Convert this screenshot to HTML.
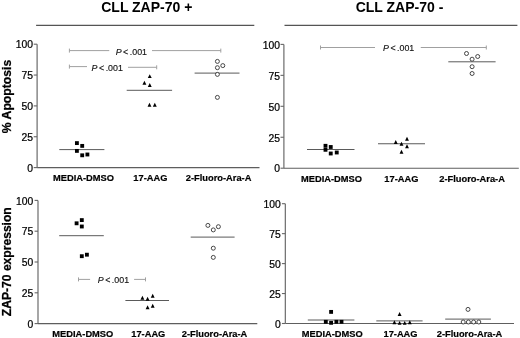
<!DOCTYPE html>
<html><head><meta charset="utf-8"><title>Figure</title>
<style>
html,body{margin:0;padding:0;background:#fff;}
svg{display:block;font-family:"Liberation Sans",sans-serif;fill:#000;}
</style></head><body>
<svg width="520" height="338" viewBox="0 0 520 338">
<rect width="520" height="338" fill="#fff"/>
<text x="146.8" y="11.7" font-size="14" text-anchor="middle" font-weight="bold" >CLL ZAP-70 +</text>
<text x="399.5" y="11.7" font-size="14" text-anchor="middle" font-weight="bold" >CLL ZAP-70 -</text>
<line x1="36.1" y1="25.3" x2="254.3" y2="25.3" stroke="#555" stroke-width="1.2"/>
<line x1="284.5" y1="25.3" x2="517.4" y2="25.3" stroke="#555" stroke-width="1.2"/>
<line x1="37.1" y1="44.2" x2="37.1" y2="167.6" stroke="#5e5e5e" stroke-width="1.1"/>
<line x1="37.1" y1="167.6" x2="259.5" y2="167.6" stroke="#5e5e5e" stroke-width="1.1"/>
<line x1="33.7" y1="44.2" x2="37.1" y2="44.2" stroke="#666" stroke-width="1.1"/>
<text transform="translate(33.10,48.45) scale(0.925,1)" font-size="11.2" text-anchor="end" font-weight="normal" stroke="#000" stroke-width="0.25">100</text>
<line x1="33.7" y1="75.05" x2="37.1" y2="75.05" stroke="#666" stroke-width="1.1"/>
<text transform="translate(33.10,79.30) scale(0.925,1)" font-size="11.2" text-anchor="end" font-weight="normal" stroke="#000" stroke-width="0.25">75</text>
<line x1="33.7" y1="105.9" x2="37.1" y2="105.9" stroke="#666" stroke-width="1.1"/>
<text transform="translate(33.10,110.15) scale(0.925,1)" font-size="11.2" text-anchor="end" font-weight="normal" stroke="#000" stroke-width="0.25">50</text>
<line x1="33.7" y1="136.75" x2="37.1" y2="136.75" stroke="#666" stroke-width="1.1"/>
<text transform="translate(33.10,141.00) scale(0.925,1)" font-size="11.2" text-anchor="end" font-weight="normal" stroke="#000" stroke-width="0.25">25</text>
<line x1="33.7" y1="167.6" x2="37.1" y2="167.6" stroke="#666" stroke-width="1.1"/>
<text transform="translate(33.10,171.85) scale(0.925,1)" font-size="11.2" text-anchor="end" font-weight="normal" stroke="#000" stroke-width="0.25">0</text>
<text transform="translate(83.50,180.80) scale(0.94,1)" font-size="9.9" text-anchor="middle" font-weight="bold" stroke="#000" stroke-width="0.2">MEDIA-DMSO</text>
<text transform="translate(150.40,180.80) scale(0.94,1)" font-size="9.9" text-anchor="middle" font-weight="bold" stroke="#000" stroke-width="0.2">17-AAG</text>
<text transform="translate(218.60,180.80) scale(0.94,1)" font-size="9.9" text-anchor="middle" font-weight="bold" stroke="#000" stroke-width="0.2">2-Fluoro-Ara-A</text>
<line x1="283.9" y1="44.4" x2="283.9" y2="168.2" stroke="#5e5e5e" stroke-width="1.1"/>
<line x1="283.9" y1="168.2" x2="518.8" y2="168.2" stroke="#5e5e5e" stroke-width="1.1"/>
<line x1="280.5" y1="44.4" x2="283.9" y2="44.4" stroke="#666" stroke-width="1.1"/>
<text transform="translate(279.90,48.65) scale(0.925,1)" font-size="11.2" text-anchor="end" font-weight="normal" stroke="#000" stroke-width="0.25">100</text>
<line x1="280.5" y1="75.35" x2="283.9" y2="75.35" stroke="#666" stroke-width="1.1"/>
<text transform="translate(279.90,79.60) scale(0.925,1)" font-size="11.2" text-anchor="end" font-weight="normal" stroke="#000" stroke-width="0.25">75</text>
<line x1="280.5" y1="106.29999999999998" x2="283.9" y2="106.29999999999998" stroke="#666" stroke-width="1.1"/>
<text transform="translate(279.90,110.55) scale(0.925,1)" font-size="11.2" text-anchor="end" font-weight="normal" stroke="#000" stroke-width="0.25">50</text>
<line x1="280.5" y1="137.25" x2="283.9" y2="137.25" stroke="#666" stroke-width="1.1"/>
<text transform="translate(279.90,141.50) scale(0.925,1)" font-size="11.2" text-anchor="end" font-weight="normal" stroke="#000" stroke-width="0.25">25</text>
<line x1="280.5" y1="168.2" x2="283.9" y2="168.2" stroke="#666" stroke-width="1.1"/>
<text transform="translate(279.90,172.45) scale(0.925,1)" font-size="11.2" text-anchor="end" font-weight="normal" stroke="#000" stroke-width="0.25">0</text>
<text transform="translate(331.50,181.70) scale(0.94,1)" font-size="9.9" text-anchor="middle" font-weight="bold" stroke="#000" stroke-width="0.2">MEDIA-DMSO</text>
<text transform="translate(401.40,181.70) scale(0.94,1)" font-size="9.9" text-anchor="middle" font-weight="bold" stroke="#000" stroke-width="0.2">17-AAG</text>
<text transform="translate(472.10,181.70) scale(0.94,1)" font-size="9.9" text-anchor="middle" font-weight="bold" stroke="#000" stroke-width="0.2">2-Fluoro-Ara-A</text>
<line x1="38.0" y1="200.4" x2="38.0" y2="323.6" stroke="#5e5e5e" stroke-width="1.1"/>
<line x1="38.0" y1="323.6" x2="257.3" y2="323.6" stroke="#5e5e5e" stroke-width="1.1"/>
<line x1="34.6" y1="200.4" x2="38.0" y2="200.4" stroke="#666" stroke-width="1.1"/>
<text transform="translate(33.30,204.65) scale(0.925,1)" font-size="11.2" text-anchor="end" font-weight="normal" stroke="#000" stroke-width="0.25">100</text>
<line x1="34.6" y1="231.20000000000002" x2="38.0" y2="231.20000000000002" stroke="#666" stroke-width="1.1"/>
<text transform="translate(33.30,235.45) scale(0.925,1)" font-size="11.2" text-anchor="end" font-weight="normal" stroke="#000" stroke-width="0.25">75</text>
<line x1="34.6" y1="262.0" x2="38.0" y2="262.0" stroke="#666" stroke-width="1.1"/>
<text transform="translate(33.30,266.25) scale(0.925,1)" font-size="11.2" text-anchor="end" font-weight="normal" stroke="#000" stroke-width="0.25">50</text>
<line x1="34.6" y1="292.8" x2="38.0" y2="292.8" stroke="#666" stroke-width="1.1"/>
<text transform="translate(33.30,297.05) scale(0.925,1)" font-size="11.2" text-anchor="end" font-weight="normal" stroke="#000" stroke-width="0.25">25</text>
<line x1="34.6" y1="323.6" x2="38.0" y2="323.6" stroke="#666" stroke-width="1.1"/>
<text transform="translate(33.30,327.85) scale(0.925,1)" font-size="11.2" text-anchor="end" font-weight="normal" stroke="#000" stroke-width="0.25">0</text>
<text transform="translate(82.80,336.80) scale(0.94,1)" font-size="9.9" text-anchor="middle" font-weight="bold" stroke="#000" stroke-width="0.2">MEDIA-DMSO</text>
<text transform="translate(148.30,336.80) scale(0.94,1)" font-size="9.9" text-anchor="middle" font-weight="bold" stroke="#000" stroke-width="0.2">17-AAG</text>
<text transform="translate(214.50,336.80) scale(0.94,1)" font-size="9.9" text-anchor="middle" font-weight="bold" stroke="#000" stroke-width="0.2">2-Fluoro-Ara-A</text>
<line x1="285.3" y1="203.7" x2="285.3" y2="323.5" stroke="#5e5e5e" stroke-width="1.1"/>
<line x1="285.3" y1="323.5" x2="514" y2="323.5" stroke="#5e5e5e" stroke-width="1.1"/>
<line x1="281.90000000000003" y1="203.7" x2="285.3" y2="203.7" stroke="#666" stroke-width="1.1"/>
<text transform="translate(280.80,207.95) scale(0.925,1)" font-size="11.2" text-anchor="end" font-weight="normal" stroke="#000" stroke-width="0.25">100</text>
<line x1="281.90000000000003" y1="233.64999999999998" x2="285.3" y2="233.64999999999998" stroke="#666" stroke-width="1.1"/>
<text transform="translate(280.80,237.90) scale(0.925,1)" font-size="11.2" text-anchor="end" font-weight="normal" stroke="#000" stroke-width="0.25">75</text>
<line x1="281.90000000000003" y1="263.6" x2="285.3" y2="263.6" stroke="#666" stroke-width="1.1"/>
<text transform="translate(280.80,267.85) scale(0.925,1)" font-size="11.2" text-anchor="end" font-weight="normal" stroke="#000" stroke-width="0.25">50</text>
<line x1="281.90000000000003" y1="293.55" x2="285.3" y2="293.55" stroke="#666" stroke-width="1.1"/>
<text transform="translate(280.80,297.80) scale(0.925,1)" font-size="11.2" text-anchor="end" font-weight="normal" stroke="#000" stroke-width="0.25">25</text>
<line x1="281.90000000000003" y1="323.5" x2="285.3" y2="323.5" stroke="#666" stroke-width="1.1"/>
<text transform="translate(280.80,327.75) scale(0.925,1)" font-size="11.2" text-anchor="end" font-weight="normal" stroke="#000" stroke-width="0.25">0</text>
<text transform="translate(332.20,337.00) scale(0.94,1)" font-size="9.9" text-anchor="middle" font-weight="bold" stroke="#000" stroke-width="0.2">MEDIA-DMSO</text>
<text transform="translate(400.50,337.00) scale(0.94,1)" font-size="9.9" text-anchor="middle" font-weight="bold" stroke="#000" stroke-width="0.2">17-AAG</text>
<text transform="translate(469.50,337.00) scale(0.94,1)" font-size="9.9" text-anchor="middle" font-weight="bold" stroke="#000" stroke-width="0.2">2-Fluoro-Ara-A</text>
<text transform="translate(11.3,96.5) rotate(-90)" font-size="12.2" stroke="#000" stroke-width="0.25" font-weight="bold" text-anchor="middle">% Apoptosis</text>
<text transform="translate(11,261.7) rotate(-90)" font-size="12.1" stroke="#000" stroke-width="0.25" font-weight="bold" text-anchor="middle">ZAP-70 expression</text>
<line x1="59.3" y1="149.6" x2="104.4" y2="149.6" stroke="#5a5a5a" stroke-width="1.0"/>
<rect x="74.98" y="141.17" width="3.85" height="3.85" fill="#000"/>
<rect x="80.28" y="143.97" width="3.85" height="3.85" fill="#000"/>
<rect x="74.98" y="148.97" width="3.85" height="3.85" fill="#000"/>
<rect x="80.28" y="153.38" width="3.85" height="3.85" fill="#000"/>
<rect x="85.48" y="152.57" width="3.85" height="3.85" fill="#000"/>
<line x1="126.7" y1="90.3" x2="172.1" y2="90.3" stroke="#5a5a5a" stroke-width="1.0"/>
<polygon points="149.75,74.15 147.80,78.05 151.70,78.05" fill="#000"/>
<polygon points="144.40,80.85 142.45,84.75 146.35,84.75" fill="#000"/>
<polygon points="149.75,83.05 147.80,86.95 151.70,86.95" fill="#000"/>
<polygon points="149.50,102.75 147.55,106.65 151.45,106.65" fill="#000"/>
<polygon points="154.80,102.75 152.85,106.65 156.75,106.65" fill="#000"/>
<line x1="194.6" y1="73.1" x2="239.5" y2="73.1" stroke="#5a5a5a" stroke-width="1.0"/>
<circle cx="217.40" cy="61.40" r="2.0" fill="#fff" stroke="#333" stroke-width="0.9"/>
<circle cx="222.80" cy="65.60" r="2.0" fill="#fff" stroke="#333" stroke-width="0.9"/>
<circle cx="217.40" cy="67.70" r="2.0" fill="#fff" stroke="#333" stroke-width="0.9"/>
<circle cx="217.40" cy="74.40" r="2.0" fill="#fff" stroke="#333" stroke-width="0.9"/>
<circle cx="217.40" cy="97.40" r="2.0" fill="#fff" stroke="#333" stroke-width="0.9"/>
<line x1="69.4" y1="50.6" x2="109.25" y2="50.6" stroke="#a0a0a0" stroke-width="1"/>
<line x1="152" y1="50.6" x2="220.8" y2="50.6" stroke="#a0a0a0" stroke-width="1"/>
<line x1="69.4" y1="48.6" x2="69.4" y2="52.6" stroke="#a0a0a0" stroke-width="1"/>
<line x1="220.8" y1="48.6" x2="220.8" y2="52.6" stroke="#a0a0a0" stroke-width="1"/>
<text transform="translate(115.70,54.50) scale(0.93,1)" stroke="#111" stroke-width="0.15" font-size="9.5" word-spacing="-1" fill="#111"><tspan font-style="italic">P</tspan> &lt; .001</text>
<line x1="69.4" y1="66.6" x2="87" y2="66.6" stroke="#a0a0a0" stroke-width="1"/>
<line x1="128" y1="67.3" x2="156.7" y2="67.3" stroke="#a0a0a0" stroke-width="1"/>
<line x1="69.4" y1="64.6" x2="69.4" y2="68.6" stroke="#a0a0a0" stroke-width="1"/>
<line x1="156.7" y1="65.3" x2="156.7" y2="69.3" stroke="#a0a0a0" stroke-width="1"/>
<text transform="translate(91.60,70.50) scale(0.93,1)" stroke="#111" stroke-width="0.15" font-size="9.5" word-spacing="-1" fill="#111"><tspan font-style="italic">P</tspan> &lt; .001</text>
<line x1="307" y1="149.5" x2="354.5" y2="149.5" stroke="#5a5a5a" stroke-width="1.0"/>
<rect x="323.57" y="143.88" width="3.85" height="3.85" fill="#000"/>
<rect x="323.57" y="147.88" width="3.85" height="3.85" fill="#000"/>
<rect x="328.82" y="145.07" width="3.85" height="3.85" fill="#000"/>
<rect x="328.82" y="151.57" width="3.85" height="3.85" fill="#000"/>
<rect x="334.82" y="150.57" width="3.85" height="3.85" fill="#000"/>
<line x1="378" y1="143.75" x2="425" y2="143.75" stroke="#5a5a5a" stroke-width="1.0"/>
<polygon points="395.75,140.05 393.80,143.95 397.70,143.95" fill="#000"/>
<polygon points="407.00,136.80 405.05,140.70 408.95,140.70" fill="#000"/>
<polygon points="401.50,141.80 399.55,145.70 403.45,145.70" fill="#000"/>
<polygon points="407.00,144.30 405.05,148.20 408.95,148.20" fill="#000"/>
<polygon points="401.50,149.80 399.55,153.70 403.45,153.70" fill="#000"/>
<line x1="448.3" y1="61.8" x2="495.6" y2="61.8" stroke="#5a5a5a" stroke-width="1.0"/>
<circle cx="466.50" cy="53.50" r="2.0" fill="#fff" stroke="#333" stroke-width="0.9"/>
<circle cx="477.70" cy="56.50" r="2.0" fill="#fff" stroke="#333" stroke-width="0.9"/>
<circle cx="472.10" cy="59.20" r="2.0" fill="#fff" stroke="#333" stroke-width="0.9"/>
<circle cx="472.10" cy="66.70" r="2.0" fill="#fff" stroke="#333" stroke-width="0.9"/>
<circle cx="472.10" cy="73.50" r="2.0" fill="#fff" stroke="#333" stroke-width="0.9"/>
<line x1="320.5" y1="47.5" x2="375" y2="47.5" stroke="#a0a0a0" stroke-width="1"/>
<line x1="420.75" y1="47.5" x2="486.3" y2="47.5" stroke="#a0a0a0" stroke-width="1"/>
<line x1="320.5" y1="45.5" x2="320.5" y2="49.5" stroke="#a0a0a0" stroke-width="1"/>
<line x1="486.3" y1="45.5" x2="486.3" y2="49.5" stroke="#a0a0a0" stroke-width="1"/>
<text transform="translate(383.00,51.40) scale(0.93,1)" stroke="#111" stroke-width="0.15" font-size="9.5" word-spacing="-1" fill="#111"><tspan font-style="italic">P</tspan> &lt; .001</text>
<line x1="59.2" y1="235.7" x2="103.8" y2="235.7" stroke="#5a5a5a" stroke-width="1.0"/>
<rect x="74.67" y="221.38" width="3.85" height="3.85" fill="#000"/>
<rect x="79.88" y="218.17" width="3.85" height="3.85" fill="#000"/>
<rect x="79.88" y="224.57" width="3.85" height="3.85" fill="#000"/>
<rect x="79.88" y="254.27" width="3.85" height="3.85" fill="#000"/>
<rect x="84.98" y="252.77" width="3.85" height="3.85" fill="#000"/>
<line x1="125.4" y1="300.5" x2="169" y2="300.5" stroke="#5a5a5a" stroke-width="1.0"/>
<polygon points="142.40,295.85 140.45,299.75 144.35,299.75" fill="#000"/>
<polygon points="147.60,296.85 145.65,300.75 149.55,300.75" fill="#000"/>
<polygon points="152.70,293.75 150.75,297.65 154.65,297.65" fill="#000"/>
<polygon points="147.60,305.35 145.65,309.25 149.55,309.25" fill="#000"/>
<polygon points="152.70,303.85 150.75,307.75 154.65,307.75" fill="#000"/>
<line x1="190.7" y1="237.1" x2="234.6" y2="237.1" stroke="#5a5a5a" stroke-width="1.0"/>
<circle cx="207.90" cy="225.40" r="2.0" fill="#fff" stroke="#333" stroke-width="0.9"/>
<circle cx="213.30" cy="229.90" r="2.0" fill="#fff" stroke="#333" stroke-width="0.9"/>
<circle cx="218.40" cy="226.70" r="2.0" fill="#fff" stroke="#333" stroke-width="0.9"/>
<circle cx="213.30" cy="248.20" r="2.0" fill="#fff" stroke="#333" stroke-width="0.9"/>
<circle cx="213.30" cy="257.40" r="2.0" fill="#fff" stroke="#333" stroke-width="0.9"/>
<line x1="78.5" y1="279.4" x2="90.1" y2="279.4" stroke="#a0a0a0" stroke-width="1"/>
<line x1="134.1" y1="279.4" x2="145.5" y2="279.4" stroke="#a0a0a0" stroke-width="1"/>
<line x1="78.5" y1="277.4" x2="78.5" y2="281.4" stroke="#a0a0a0" stroke-width="1"/>
<line x1="145.5" y1="277.4" x2="145.5" y2="281.4" stroke="#a0a0a0" stroke-width="1"/>
<text transform="translate(97.80,283.30) scale(0.93,1)" stroke="#111" stroke-width="0.15" font-size="9.5" word-spacing="-1" fill="#111"><tspan font-style="italic">P</tspan> &lt; .001</text>
<line x1="307.8" y1="320" x2="354.4" y2="320" stroke="#5a5a5a" stroke-width="1.0"/>
<rect x="329.18" y="309.97" width="3.85" height="3.85" fill="#000"/>
<rect x="323.88" y="319.88" width="3.85" height="3.85" fill="#000"/>
<rect x="329.18" y="320.88" width="3.85" height="3.85" fill="#000"/>
<rect x="334.47" y="319.88" width="3.85" height="3.85" fill="#000"/>
<rect x="339.57" y="319.88" width="3.85" height="3.85" fill="#000"/>
<line x1="376.3" y1="320.9" x2="422.6" y2="320.9" stroke="#5a5a5a" stroke-width="1.0"/>
<polygon points="399.60,312.05 397.65,315.95 401.55,315.95" fill="#000"/>
<polygon points="394.40,320.25 392.45,324.15 396.35,324.15" fill="#000"/>
<polygon points="399.60,320.95 397.65,324.85 401.55,324.85" fill="#000"/>
<polygon points="404.70,320.95 402.75,324.85 406.65,324.85" fill="#000"/>
<polygon points="409.80,320.25 407.85,324.15 411.75,324.15" fill="#000"/>
<line x1="445.2" y1="319.1" x2="490.9" y2="319.1" stroke="#5a5a5a" stroke-width="1.0"/>
<circle cx="468.00" cy="309.40" r="2.0" fill="#fff" stroke="#333" stroke-width="0.9"/>
<circle cx="463.20" cy="322.00" r="2.0" fill="#fff" stroke="#333" stroke-width="0.9"/>
<circle cx="468.40" cy="322.00" r="2.0" fill="#fff" stroke="#333" stroke-width="0.9"/>
<circle cx="473.60" cy="322.00" r="2.0" fill="#fff" stroke="#333" stroke-width="0.9"/>
<circle cx="478.80" cy="322.00" r="2.0" fill="#fff" stroke="#333" stroke-width="0.9"/>
</svg>
</body></html>
